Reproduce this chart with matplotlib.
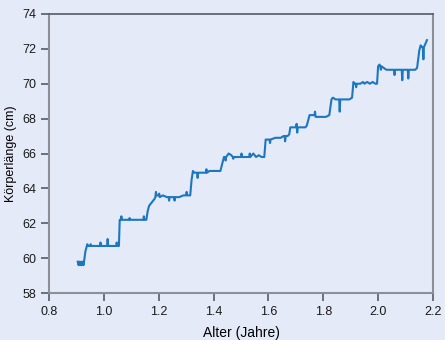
import matplotlib
matplotlib.use("Agg")
import matplotlib.pyplot as plt

# Age (years) and body length (cm)
age = [0.905, 0.908, 0.911, 0.914, 0.917, 0.920, 0.923, 0.926,
       0.933, 0.938, 0.940, 0.942, 0.950, 0.952, 0.954, 0.960, 0.970, 0.980,
       0.986, 0.988, 0.990, 1.000, 1.012, 1.014, 1.016, 1.030, 1.040, 1.045,
       1.047, 1.049, 1.055,
       1.058, 1.062, 1.064, 1.066, 1.080, 1.092, 1.094, 1.096, 1.110, 1.120,
       1.130, 1.144, 1.146, 1.148, 1.155,
       1.160, 1.165, 1.175, 1.185, 1.188, 1.190, 1.192, 1.200, 1.202, 1.204,
       1.215, 1.230, 1.236, 1.238, 1.240, 1.250, 1.256, 1.258, 1.260, 1.275,
       1.290, 1.300, 1.302, 1.304, 1.315,
       1.320, 1.325, 1.330, 1.340, 1.342, 1.344, 1.350, 1.360, 1.372, 1.374,
       1.376, 1.385, 1.395, 1.405, 1.415, 1.425, 1.430,
       1.438, 1.442, 1.444, 1.446, 1.455, 1.465, 1.470, 1.472, 1.474, 1.490,
       1.500, 1.502, 1.504, 1.515, 1.530, 1.532, 1.534, 1.545, 1.555, 1.565,
       1.575, 1.585,
       1.590, 1.600, 1.604, 1.606, 1.608, 1.625, 1.635, 1.645, 1.655, 1.659,
       1.661, 1.663, 1.670, 1.676,
       1.680, 1.690, 1.700, 1.703, 1.705, 1.707, 1.715, 1.725, 1.735, 1.740,
       1.750, 1.760, 1.768, 1.770, 1.772, 1.790, 1.800, 1.810, 1.822,
       1.830, 1.835, 1.845, 1.855, 1.858, 1.860, 1.862, 1.875, 1.885, 1.895,
       1.905,
       1.910, 1.915, 1.918, 1.920, 1.922, 1.935, 1.945, 1.950, 1.960, 1.970,
       1.980, 1.990, 1.996,
       2.000, 2.005, 2.008, 2.010, 2.012, 2.030, 2.040, 2.050, 2.058, 2.060,
       2.062, 2.070, 2.080, 2.086, 2.088, 2.090, 2.100, 2.108, 2.110, 2.112,
       2.125, 2.135, 2.142,
       2.150, 2.155, 2.160, 2.163, 2.165, 2.167, 2.170, 2.178]

length = [59.8, 59.6, 59.8, 59.6, 59.8, 59.6, 59.8, 59.6,
          60.4, 60.7, 60.8, 60.7, 60.7, 60.8, 60.7, 60.7, 60.7, 60.7,
          60.7, 60.9, 60.7, 60.7, 60.7, 61.1, 60.7, 60.7, 60.7, 60.7,
          60.9, 60.7, 60.7,
          62.2, 62.2, 62.4, 62.2, 62.2, 62.2, 62.3, 62.2, 62.2, 62.2,
          62.2, 62.2, 62.4, 62.2, 62.2,
          62.7, 63.0, 63.2, 63.4, 63.5, 63.8, 63.6, 63.6, 63.7, 63.5,
          63.6, 63.5, 63.5, 63.3, 63.5, 63.5, 63.5, 63.3, 63.5, 63.5,
          63.6, 63.6, 63.8, 63.6, 63.6,
          64.5, 65.0, 64.9, 64.9, 64.6, 64.9, 64.9, 64.9, 64.9, 65.1,
          64.9, 65.0, 65.0, 65.0, 65.0, 65.0, 65.3,
          65.8, 65.8, 65.6, 65.8, 66.0, 65.9, 65.8, 65.7, 65.8, 65.8,
          65.8, 66.0, 65.8, 65.8, 65.8, 66.0, 65.8, 66.0, 65.8, 65.9,
          65.8, 65.8,
          66.8, 66.8, 66.8, 66.6, 66.8, 66.9, 66.9, 66.9, 67.0, 67.0,
          66.7, 67.0, 67.0, 67.1,
          67.5, 67.5, 67.5, 67.7, 67.2, 67.5, 67.5, 67.5, 67.5, 67.6,
          68.2, 68.2, 68.2, 68.4, 68.1, 68.1, 68.1, 68.1, 68.2,
          69.1, 69.2, 69.1, 69.1, 69.1, 68.4, 69.1, 69.1, 69.1, 69.1,
          69.2,
          70.1, 70.0, 70.0, 69.8, 70.0, 70.0, 70.1, 70.0, 70.1, 70.0,
          70.1, 70.0, 70.0,
          71.0, 71.1, 71.0, 70.8, 71.0, 70.8, 70.8, 70.8, 70.8, 70.5,
          70.8, 70.8, 70.8, 70.8, 70.2, 70.8, 70.8, 70.8, 70.3, 70.8,
          70.8, 70.8, 70.9,
          71.9, 72.2, 72.1, 72.1, 71.4, 72.1, 72.2, 72.5]

x_ticks = [0.8, 1.0, 1.2, 1.4, 1.6, 1.8, 2.0, 2.2]
y_ticks = [58, 60, 62, 64, 66, 68, 70, 72, 74]

plt.rcParams["font.family"] = ["Liberation Sans", "DejaVu Sans"]

bg = "#e4eaf8"
fig = plt.figure(figsize=(4.45, 3.4), dpi=100, facecolor=bg)
ax = fig.add_axes([0.110, 0.138, 0.863, 0.821], facecolor=bg)

ax.plot(age, length, color="#1c77bf", linewidth=1.5)

ax.set_xlim(0.8, 2.2)
ax.set_ylim(58, 74)
ax.set_xticks(x_ticks)
ax.set_xticklabels(["%.1f" % t for t in x_ticks])
ax.set_yticks(y_ticks)

for side in ["left", "right", "bottom"]:
    ax.spines[side].set_color("#8a8f98")
    ax.spines[side].set_linewidth(1.5)
ax.spines["top"].set_color("#555c68")
ax.spines["top"].set_linewidth(1.2)

ax.tick_params(axis="both", direction="out", length=6, width=1.2,
               color="#555c68", labelsize=9, labelcolor="#1a1a1a", pad=3)

ax.set_xlabel("Alter (Jahre)", fontsize=10, labelpad=6)
ax.set_ylabel("Körperlänge (cm)", fontsize=9, labelpad=4)

fig.savefig("out.png", dpi=100, facecolor=bg)
